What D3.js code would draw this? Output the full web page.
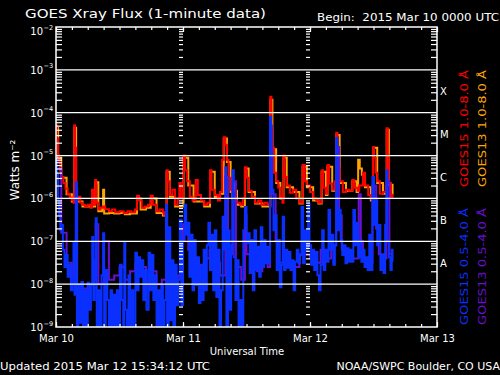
<!DOCTYPE html>
<html>
<head>
<meta charset="utf-8">
<script src="https://cdn.jsdelivr.net/npm/d3@7"></script>
<style>
  body { margin: 0; background: #000; }
  svg { display: block; background: #000; }
  text { font-family: "DejaVu Sans", sans-serif; fill: #fff; white-space: pre; }
</style>
</head>
<body>
<div id="canvas"></div>
<script>
// [hours after 2015 Mar 10 00:00 UTC, log10 of flux in W m^-2]
let goes15Long = [[0,-4.29],[0.2,-4.6],[0.4,-5.0],[0.6,-5.15],[0.8,-5.35],[1.0,-5.5],[1.4,-5.64],[1.8,-5.77],[2.2,-5.89],[2.6,-5.98],[3.0,-6.04],[3.3,-6.1],[3.45,-4.29],[3.6,-4.82],[3.8,-6.04],[4.2,-5.96],[4.6,-6.1],[5.0,-6.15],[5.5,-6.19],[6.0,-6.15],[6.5,-6.22],[6.8,-5.8],[7.0,-6.15],[7.4,-5.57],[7.6,-6.1],[8.0,-6.25],[8.4,-6.22],[8.9,-6.19],[9.3,-6.25],[10,-6.3],[10.6,-6.26],[11.2,-6.32],[12,-6.3],[12.8,-6.34],[13.5,-6.3],[14.2,-6.32],[14.9,-6.26],[15.3,-5.94],[15.7,-6.04],[16.2,-6.22],[16.8,-6.19],[17.4,-6.15],[17.9,-5.94],[18.3,-6.15],[19,-6.3],[19.6,-6.26],[20.2,-6.32],[20.4,-6.38],[20.9,-5.34],[21.1,-5.6],[21.5,-5.92],[22,-5.8],[22.5,-6.15],[23.0,-6.0],[23.3,-5.64],[23.6,-6.0],[24.1,-5.0],[24.4,-5.34],[24.8,-5.6],[25.3,-5.96],[25.8,-6.05],[26.4,-5.57],[26.8,-5.92],[27.4,-6.05],[28.0,-6.15],[28.6,-6.1],[29.1,-5.34],[29.4,-5.8],[30.0,-5.92],[30.6,-6.05],[31.0,-5.85],[31.4,-5.1],[31.7,-4.57],[32.0,-4.75],[32.3,-5.1],[32.6,-5.52],[33.0,-5.8],[33.5,-6.05],[34.2,-6.1],[34.8,-6.15],[35.3,-6.0],[35.7,-5.27],[36.0,-5.52],[36.4,-5.82],[37.0,-5.96],[37.6,-6.1],[38.2,-6.05],[38.8,-6.15],[39.4,-6.1],[40.0,-6.15],[40.5,-3.63],[40.7,-4.4],[40.9,-4.82],[41.2,-5.4],[41.6,-5.6],[42.0,-5.75],[42.4,-5.96],[42.8,-6.1],[43.0,-5.0],[43.2,-5.5],[43.6,-5.7],[44.2,-5.87],[44.8,-5.8],[45.4,-6.0],[46.0,-6.1],[46.6,-5.22],[47.0,-5.6],[47.4,-5.7],[48.0,-5.85],[48.6,-6.0],[49.2,-6.04],[49.6,-6.1],[50.2,-5.34],[50.5,-5.75],[51.0,-5.89],[51.3,-5.22],[51.6,-5.65],[52.2,-5.8],[52.7,-5.6],[52.95,-4.47],[53.2,-5.3],[53.6,-5.6],[54.2,-5.85],[54.8,-5.8],[55.4,-5.82],[56.0,-5.57],[56.4,-5.75],[57.0,-5.82],[57.3,-5.7],[58.0,-5.4],[58.4,-5.7],[59.0,-5.92],[59.5,-6.0],[59.9,-4.8],[60.1,-5.05],[60.4,-5.4],[60.7,-5.6],[61.2,-5.89],[61.8,-5.85],[62.3,-5.7],[62.5,-4.36],[62.7,-5.0],[62.9,-5.64],[63.3,-5.96],[63.6,-5.89]]

let goes13Long = [[0,-4.35],[0.4,-5.05],[1,-5.52],[2,-5.9],[3,-6.07],[3.45,-4.35],[3.8,-6.07],[5,-6.19],[6,-6.19],[7.4,-5.62],[8,-6.3],[8.7,-6.22],[8.9,-5.8],[9.1,-6.35],[10,-6.34],[11,-6.35],[12,-6.34],[13,-6.37],[14,-6.35],[15.3,-6.0],[16,-6.26],[17,-6.22],[17.9,-6.0],[19,-6.34],[20.2,-6.4],[20.9,-5.38],[21.5,-5.96],[22.5,-6.19],[24.1,-5.05],[25,-5.7],[26,-6.07],[27,-6.07],[28,-6.19],[29.1,-5.38],[30,-5.96],[31,-5.89],[31.7,-4.6],[32.3,-5.15],[33,-5.85],[33.3,-6.0],[33.5,-5.65],[33.7,-5.82],[34.2,-6.15],[35,-6.19],[35.7,-5.3],[36.4,-5.85],[37.6,-6.12],[39,-6.19],[40,-6.19],[40.5,-3.7],[40.9,-4.85],[41.6,-5.64],[42.4,-6.0],[43,-5.05],[43.6,-5.74],[44.8,-5.85],[46,-6.12],[46.6,-5.26],[47.4,-5.74],[48.6,-6.05],[49.6,-6.12],[50.2,-5.38],[51,-5.92],[51.3,-5.26],[52.2,-5.82],[52.95,-4.52],[53.6,-5.64],[54.8,-5.82],[56,-5.6],[56.8,-5.85],[57.1,-5.1],[57.4,-5.3],[57.8,-5.45],[58.4,-5.74],[59.5,-6.05],[59.9,-4.82],[60.7,-5.64],[61.8,-5.89],[62.5,-4.4],[62.9,-5.68],[63.6,-5.92]]

let goes15Short = [[0,-5.10],[0.2,-5.45],[0.4,-6.04],[0.6,-6.39],[0.8,-6.74],[1.0,-6.62],[1.3,-7.20],[1.6,-7.60],[1.9,-7.32],[2.2,-7.83],[2.5,-7.55],[2.8,-8.14],[3.1,-7.90],[3.3,-7.04],[3.5,-8.25],[3.75,-5.62],[3.95,-9.3],[4.2,-8.02],[4.5,-8.9],[4.8,-7.95],[5.1,-9.3],[5.4,-8.14],[5.7,-9.3],[6.0,-7.97],[6.3,-8.6],[6.6,-8.02],[6.85,-6.90],[7.05,-8.37],[7.3,-7.44],[7.5,-6.46],[7.7,-9.3],[8.0,-8.14],[8.3,-9.3],[8.6,-7.79],[8.9,-6.81],[9.1,-9.3],[9.4,-7.67],[9.7,-8.37],[10.0,-9.3],[10.3,-8.14],[10.6,-9.3],[10.9,-8.25],[11.2,-9.3],[11.5,-8.14],[11.8,-9.3],[12.1,-7.55],[12.4,-8.37],[12.7,-9.3],[12.9,-7.04],[13.1,-8.6],[13.4,-9.3],[13.7,-7.79],[14.0,-9.3],[14.3,-8.14],[14.6,-9.3],[15.0,-7.27],[15.3,-8.14],[15.6,-7.37],[15.9,-7.83],[16.2,-7.44],[16.5,-8.37],[16.8,-7.67],[17.1,-8.6],[17.5,-7.27],[17.8,-8.14],[18.1,-7.32],[18.4,-8.37],[18.7,-7.79],[19.0,-9.3],[19.3,-8.14],[19.6,-9.3],[19.9,-8.02],[20.2,-9.3],[20.5,-8.37],[20.8,-6.15],[21.0,-9.3],[21.3,-6.67],[21.6,-8.84],[21.9,-7.44],[22.2,-9.3],[22.5,-7.55],[22.8,-8.49],[23.1,-7.90],[23.4,-6.50],[23.7,-8.49],[24.0,-6.97],[24.3,-6.15],[24.6,-6.85],[24.9,-6.57],[25.2,-7.83],[25.5,-6.85],[25.8,-8.14],[26.1,-6.97],[26.4,-8.02],[26.7,-7.37],[27.0,-8.44],[27.3,-7.55],[27.6,-8.37],[27.9,-7.20],[28.2,-8.14],[28.5,-7.09],[28.8,-6.57],[29.1,-7.67],[29.4,-6.85],[29.7,-8.14],[30.0,-6.74],[30.3,-8.30],[30.6,-7.20],[30.9,-9.3],[31.2,-8.14],[31.5,-6.43],[31.8,-7.20],[32.0,-5.27],[32.2,-9.3],[32.5,-6.74],[32.8,-8.6],[33.1,-7.09],[33.35,-5.34],[33.6,-7.37],[33.9,-8.37],[34.2,-7.44],[34.5,-9.3],[34.8,-8.37],[35.1,-9.3],[35.4,-6.74],[35.7,-6.20],[36.0,-7.04],[36.3,-6.81],[36.6,-7.74],[36.9,-6.97],[37.2,-8.14],[37.5,-6.74],[37.8,-7.67],[38.1,-7.13],[38.4,-7.83],[38.7,-6.67],[39.0,-7.60],[39.3,-6.97],[39.6,-7.51],[39.9,-7.13],[40.2,-7.51],[40.45,-4.10],[40.65,-4.87],[40.85,-5.80],[41.1,-6.74],[41.4,-6.39],[41.7,-7.67],[42.0,-6.97],[42.3,-8.07],[42.6,-7.55],[42.85,-6.43],[43.1,-7.67],[43.4,-7.20],[43.7,-7.62],[44.0,-7.25],[44.3,-7.67],[44.6,-7.44],[44.9,-8.14],[45.2,-7.48],[45.5,-7.20],[45.8,-7.51],[46.1,-7.32],[46.4,-6.20],[46.7,-7.51],[47.0,-6.74],[47.3,-7.20],[47.65,-6.11],[47.9,-7.09],[48.2,-7.55],[48.5,-7.20],[48.8,-7.67],[49.1,-7.25],[49.4,-7.79],[49.7,-8.14],[50.0,-7.55],[50.3,-6.74],[50.6,-7.67],[50.9,-7.20],[51.2,-7.48],[51.5,-6.27],[51.8,-7.20],[52.1,-6.85],[52.4,-7.55],[52.7,-7.09],[52.95,-4.59],[53.2,-6.74],[53.5,-6.27],[53.8,-6.97],[54.1,-7.32],[54.4,-7.09],[54.7,-7.51],[55.0,-7.16],[55.3,-7.48],[55.6,-7.20],[55.9,-7.48],[56.2,-6.27],[56.5,-7.09],[56.8,-6.57],[57.1,-7.37],[57.4,-6.97],[57.7,-7.48],[58.0,-7.20],[58.3,-7.60],[58.6,-7.37],[58.9,-7.67],[59.2,-6.85],[59.5,-7.67],[59.8,-5.50],[60.1,-6.62],[60.4,-6.04],[60.7,-7.09],[61.0,-6.62],[61.3,-7.67],[61.6,-7.32],[61.9,-7.74],[62.2,-6.62],[62.45,-5.34],[62.65,-6.97],[62.9,-7.37],[63.2,-7.67],[63.45,-7.20],[63.6,-7.48]]

let goes13Short = [[0,-5.3],[1,-6.8],[2,-7.5],[3,-7.9],[3.75,-5.8],[4,-8.0],[5,-8.1],[6,-8.0],[7,-7.9],[7.5,-6.6],[8,-8.0],[9,-7.0],[10,-7.9],[11,-7.8],[12,-7.6],[13,-7.9],[14,-7.7],[15,-7.5],[16,-7.6],[17,-7.9],[18,-7.7],[19,-8.0],[20,-7.9],[20.8,-6.4],[21,-7.6],[22,-8.1],[23,-7.8],[24,-6.6],[25,-7.2],[26,-7.4],[27,-7.6],[28,-7.4],[29,-7.2],[30,-7.5],[31,-7.8],[32.0,-5.5],[32.5,-7.3],[33.35,-5.6],[34,-7.6],[35,-7.9],[35.7,-6.4],[36,-7.3],[37,-7.5],[38,-7.7],[39,-7.5],[40,-7.6],[40.45,-4.3],[40.8,-5.9],[41.5,-7.0],[42,-7.5],[43,-7.5],[44,-7.6],[45,-7.6],[46,-7.3],[47,-7.3],[48,-7.4],[49,-7.5],[50,-7.2],[51,-7.4],[52,-7.1],[52.95,-4.8],[53.5,-6.4],[54,-7.2],[55,-7.3],[56,-7.4],[57.2,-5.9],[57.6,-7.0],[58,-7.4],[59,-7.5],[59.8,-5.7],[60.5,-6.7],[61,-7.3],[62,-7.4],[62.45,-5.6],[63,-7.3],[63.6,-7.3]]

let decadeExponents = [-2, -3, -4, -5, -6, -7, -8, -9]
let flareClasses = ["X", "M", "C", "B", "A"]
let flareClassExponents = [-4, -5, -6, -7, -8]
let seriesNames = ["GOES15 1.0-8.0 Å", "GOES13 1.0-8.0 Å", "GOES15 0.5-4.0 Å", "GOES13 0.5-4.0 Å"]

let startDate = new Date(Date.UTC(2015, 2, 10))
let endDate = new Date(Date.UTC(2015, 2, 13))

let svg = {}
let x, y

window.onload = function () { setup() }

function setup() {
  svg = d3.select("#canvas").append("svg").attr("width", 500).attr("height", 375)
  x = d3.scaleUtc().domain([startDate, endDate]).range([56, 437])
  y = d3.scaleLog().domain([1e-9, 1e-2]).range([327, 27])
  drawSeries()
  drawGrid()
  drawAxes()
  drawText()
}

function hourToDate(h) {
  return new Date(startDate.getTime() + h * 3600000)
}

function drawSeries() {
  svg.append("clipPath").attr("id", "plotClip")
    .append("rect").attr("x", 56).attr("y", 27).attr("width", 381).attr("height", 300)

  let line = d3.line()
    .x(d => x(hourToDate(d[0])))
    .y(d => y(Math.pow(10, d[1])))
    .curve(d3.curveStepAfter)

  let layers = [
    { data: goes13Long, color: "#ffa500", width: 2 },
    { data: goes15Long, color: "#ff0000", width: 2 },
    { data: goes13Short, color: "#6a10d0", width: 2 },
    { data: goes15Short, color: "#0a30ff", width: 2 }
  ]

  let g = svg.append("g").attr("clip-path", "url(#plotClip)")
  g.selectAll("path")
    .data(layers)
    .join("path")
    .attr("d", d => line(d.data))
    .attr("fill", "none")
    .attr("stroke", d => d.color)
    .attr("stroke-width", d => d.width)
}

function minorTickValues() {
  let vals = []
  for (let e = -9; e < -2; e++) {
    for (let m = 2; m <= 9; m++) vals.push(m * Math.pow(10, e))
  }
  return vals
}

function drawGrid() {
  let gridExps = decadeExponents.filter(e => e < -2 && e > -9)
  svg.append("g").selectAll("line")
    .data(gridExps)
    .join("line")
    .attr("x1", 56).attr("x2", 437)
    .attr("y1", d => y(Math.pow(10, d))).attr("y2", d => y(Math.pow(10, d)))
    .attr("stroke", "#fff").attr("stroke-width", 1.3)

  svg.append("rect")
    .attr("x", 56).attr("y", 27).attr("width", 381).attr("height", 300)
    .attr("fill", "none").attr("stroke", "#fff").attr("stroke-width", 1.5)
}

function styleAxis(g) {
  g.select(".domain").remove()
  g.selectAll("line").attr("stroke", "#fff").attr("stroke-width", 1.2)
}

function drawAxes() {
  let minors = minorTickValues()

  svg.append("g").attr("transform", "translate(56,0)")
    .call(d3.axisLeft(y).tickValues(minors).tickSize(-6).tickFormat(""))
    .call(styleAxis)
  svg.append("g").attr("transform", "translate(437,0)")
    .call(d3.axisRight(y).tickValues(minors).tickSize(-6).tickFormat(""))
    .call(styleAxis)

  // dotted day separators built from minor ticks
  let innerDays = d3.utcDay.range(d3.utcDay.offset(startDate, 1), endDate)
  innerDays.forEach(day => {
    svg.append("g").attr("transform", `translate(${x(day)},0)`)
      .call(d3.axisLeft(y).tickValues(minors).tickSize(4).tickFormat(""))
      .call(styleAxis)
  })

  let hours = d3.utcHour.every(3).range(startDate, endDate)
  svg.append("g").attr("transform", "translate(0,327)")
    .call(d3.axisBottom(x).tickValues(hours).tickSize(-3).tickFormat(""))
    .call(styleAxis)
  svg.append("g").attr("transform", "translate(0,27)")
    .call(d3.axisTop(x).tickValues(hours).tickSize(-3).tickFormat(""))
    .call(styleAxis)
  svg.append("g").attr("transform", "translate(0,327)")
    .call(d3.axisBottom(x).ticks(d3.utcDay.every(1)).tickSize(-5).tickFormat(""))
    .call(styleAxis)
  svg.append("g").attr("transform", "translate(0,27)")
    .call(d3.axisTop(x).ticks(d3.utcDay.every(1)).tickSize(-5).tickFormat(""))
    .call(styleAxis)

  // day labels
  let dayAxis = svg.append("g").attr("transform", "translate(0,327)")
    .call(d3.axisBottom(x).ticks(d3.utcDay.every(1)).tickSize(0).tickPadding(8)
      .tickFormat(d3.utcFormat("%b %d")))
  dayAxis.select(".domain").remove()
  dayAxis.selectAll("text").attr("font-size", 10).attr("fill", "#fff")
    .attr("font-family", "DejaVu Sans, sans-serif")

  // decade labels: "10" with a raised exponent; the top one sits a little lower, as in the original
  let labelY = d => Math.max(y(Math.pow(10, d)), 31)
  svg.append("g").selectAll("text")
    .data(decadeExponents)
    .join("text")
    .attr("x", 43)
    .attr("y", d => labelY(d) + 4)
    .attr("text-anchor", "end")
    .attr("font-size", 10)
    .text("10")
  svg.append("g").selectAll("text")
    .data(decadeExponents)
    .join("text")
    .attr("x", 43.5)
    .attr("y", d => labelY(d) - 1.5)
    .attr("font-size", 6.5)
    .text(d => "−" + Math.abs(d))

  // flare classes
  svg.append("g").selectAll("text")
    .data(flareClasses)
    .join("text")
    .attr("x", 440)
    .attr("y", (d, i) => y(Math.pow(10, flareClassExponents[i] + 0.5)) + 4)
    .attr("font-size", 10)
    .text(d => d)
}

function drawText() {
  svg.append("text").attr("x", 25).attr("y", 18).attr("font-size", 13)
    .attr("textLength", 241).attr("lengthAdjust", "spacingAndGlyphs")
    .text("GOES Xray Flux (1-minute data)")
  svg.append("text").attr("x", 317).attr("y", 21).attr("font-size", 11)
    .attr("textLength", 182).attr("lengthAdjust", "spacingAndGlyphs")
    .text("Begin:  2015 Mar 10 0000 UTC")
  svg.append("text").attr("x", 247).attr("y", 355).attr("font-size", 10)
    .attr("text-anchor", "middle")
    .text("Universal Time")
  svg.append("text").attr("x", 0).attr("y", 370).attr("font-size", 11)
    .attr("textLength", 210).attr("lengthAdjust", "spacingAndGlyphs")
    .text("Updated 2015 Mar 12 15:34:12 UTC")
  svg.append("text").attr("x", 500).attr("y", 370).attr("font-size", 11)
    .attr("text-anchor", "end")
    .text("NOAA/SWPC Boulder, CO USA")

  svg.append("text").attr("transform", "translate(19,170) rotate(-90)")
    .attr("text-anchor", "middle").attr("font-size", 12)
    .text("Watts m⁻²")

  let legendColors = ["#ff0000", "#ffa500", "#0a30ff", "#6a10d0"]
  let legendX = [468, 486, 468, 486]
  let legendY = [187, 187, 325, 325]
  svg.append("g").selectAll("text")
    .data(seriesNames)
    .join("text")
    .attr("transform", (d, i) => `translate(${legendX[i]},${legendY[i]}) rotate(-90)`)
    .attr("font-size", 11)
    .attr("textLength", 117).attr("lengthAdjust", "spacingAndGlyphs")
    .style("fill", (d, i) => legendColors[i])
    .text(d => d)
}
</script>
</body>
</html>
